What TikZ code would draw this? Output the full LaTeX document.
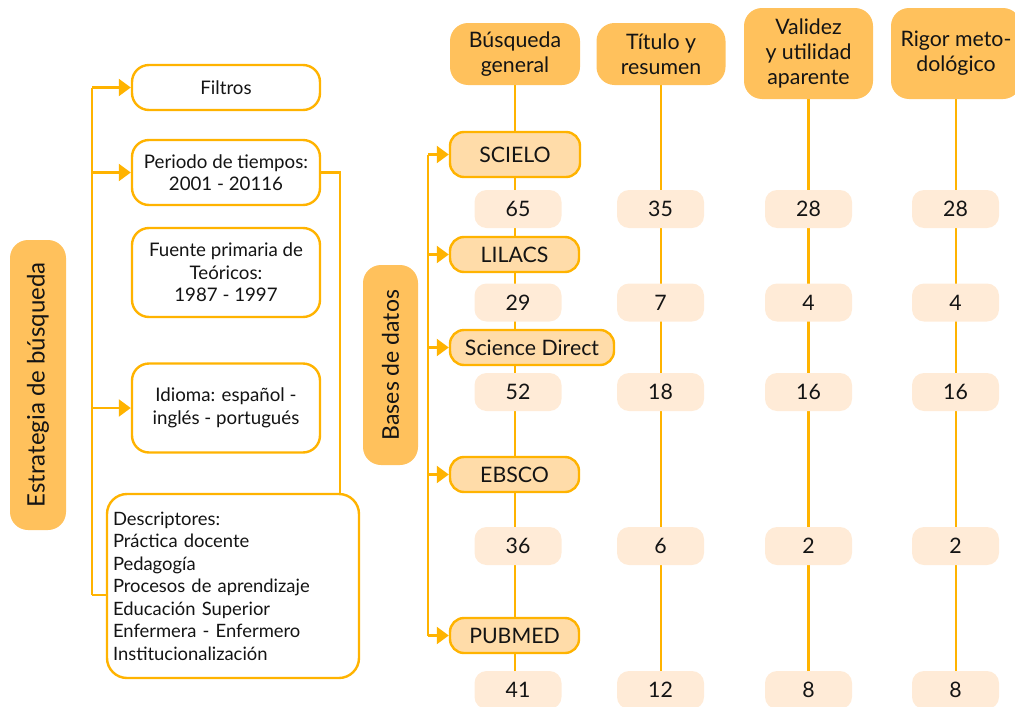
\documentclass[tikz,border=0pt]{standalone}
\usepackage{fontspec}
\setmainfont{Lato}
\usetikzlibrary{arrows.meta,backgrounds}
\definecolor{amber}{HTML}{FFB300}
\definecolor{hdr}{HTML}{FFC15C}
\definecolor{dbf}{HTML}{FFDCA9}
\definecolor{numf}{HTML}{FFEBD7}
\definecolor{ink}{HTML}{141414}
\begin{document}
\begin{tikzpicture}[x=1pt,y=-1pt,
 every node/.style={text=ink, inner sep=0pt},
 wbox/.style={draw=amber, line width=2.4pt, fill=white, rounded corners=17pt, align=center, minimum width=188pt, font=\fontsize{18.7}{22.5}\selectfont},
 hbox/.style={fill=hdr, rounded corners=18pt, align=center, font=\fontsize{21.3}{25}\selectfont},
 dbbox/.style={draw=amber, line width=2.4pt, fill=dbf, rounded corners=14pt, minimum height=35pt, minimum width=129pt, font=\fontsize{21.3}{22}\selectfont},
 nbox/.style={fill=numf, rounded corners=12pt, minimum width=87pt, minimum height=38pt, font=\fontsize{21.3}{22}\selectfont},
 conn/.style={draw=amber, line width=2.2pt},
 arr/.style={conn, -{Triangle[length=12pt,width=17pt]}},
]
\useasboundingbox (0,0) rectangle (1015,707);

% left column
\node[hbox, rotate=90, minimum width=290pt, minimum height=56pt, font=\fontsize{24}{28}\selectfont] (strat) at (38,385) {Estrategia de búsqueda};
\node[wbox, minimum height=45pt] (filt) at (226,87.5) {Filtros};
\node[wbox, minimum height=65pt] (per) at (226,172.5) {Periodo de tiempos:\\2001 - 20116};
\node[wbox, minimum height=89pt] (fue) at (226,272.5) {Fuente primaria de\\Teóricos:\\1987 - 1997};
\node[wbox, minimum height=89pt] (idi) at (226,408) {Idioma: español -\\inglés - portugués};
\node[wbox, rounded corners=20pt, minimum width=252pt, minimum height=184pt, align=left, text width=240pt, font=\fontsize{18.4}{22.5}\selectfont] (desc) at (233,586) {Descriptores:\\Práctica docente\\Pedagogía\\Procesos de aprendizaje\\Educación Superior\\Enfermera - Enfermero\\Institucionalización};

\coordinate (lt) at (92,87.5);
\coordinate (lb) at (92,595);
\draw[conn] (lb) -- (lt);
\draw[arr] (lt) -- (filt.west);
\draw[arr] (lt |- per.west) -- (per.west);
\draw[arr] (lt |- idi.west) -- (idi.west);
\draw[conn] (lb) -- (lb -| desc.west);
\coordinate (pr) at (340,172.5);
\draw[conn] (per.east) -- (pr) -- (pr |- desc.north);

% bases de datos
\node[hbox, rotate=90, minimum width=200pt, minimum height=55pt, font=\fontsize{23}{27}\selectfont] (bases) at (390.5,365) {Bases de datos};

% headers
\node[hbox, minimum width=130pt, minimum height=62pt] (h1) at (515,54) {Búsqueda\\general};
\node[hbox, minimum width=129pt, minimum height=62pt] (h2) at (661,54) {Título y\\resumen};
\node[hbox, minimum width=129pt, minimum height=91pt] (h3) at (808.5,53.5) {Validez\\y utilidad\\aparente};
\node[hbox, minimum width=130pt, minimum height=91pt] (h4) at (956,53.5) {Rigor meto-\\dológico};

% databases
\node[dbbox, minimum width=130pt, minimum height=45pt] (scielo) at (515,154.5) {SCIELO};
\node[dbbox] (lilacs) at (514.5,254.5) {LILACS};
\node[dbbox, minimum width=164pt] (sd) at (532,347.5) {Science Direct};
\node[dbbox] (ebsco) at (514.5,474.5) {EBSCO};
\node[dbbox] (pubmed) at (514.5,635.5) {PUBMED};

% numbers
\foreach \r/\y/\a/\b/\c/\d in {1/209/65/35/28/28, 2/302.5/29/7/4/4, 3/392/52/18/16/16, 4/546/36/6/2/2, 5/690/41/12/8/8} {
  \node[nbox] (n\r1) at (518,\y) {\a};
  \node[nbox] (n\r2) at (660.5,\y) {\b};
  \node[nbox] (n\r3) at (808.5,\y) {\c};
  \node[nbox] (n\r4) at (955.5,\y) {\d};
}

\begin{scope}[on background layer]
  \draw[conn] (h1.south) -- (h1.south |- n51.center);
  \draw[conn] (h2.south) -- (h2.south |- n52.center);
  \draw[conn] (h3.south) -- (h3.south |- n53.center);
  \draw[conn] (h4.south) -- (h4.south |- n54.center);
\end{scope}

\coordinate (dt) at (428,154.5);
\coordinate (dbt) at (428,635.5);
\draw[conn] (dt) -- (dbt);
\draw[arr] (dt) -- (scielo.west);
\draw[arr] (dt |- lilacs.west) -- (lilacs.west);
\draw[arr] (dt |- sd.west) -- (sd.west);
\draw[arr] (dt |- ebsco.west) -- (ebsco.west);
\draw[arr] (dbt) -- (pubmed.west);
\end{tikzpicture}
\end{document}
